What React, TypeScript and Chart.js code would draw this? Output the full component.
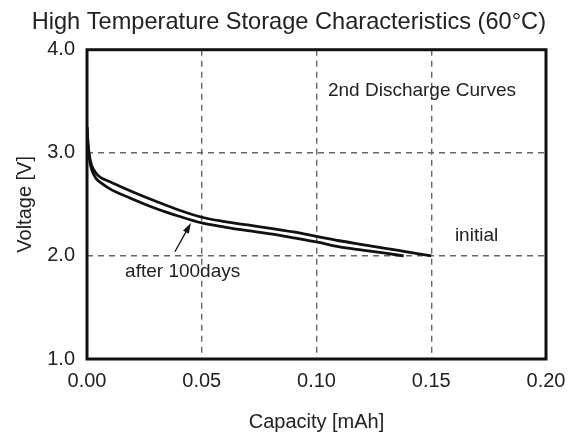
import React, { useEffect, useRef } from "react";
import { Chart, registerables } from "chart.js";

Chart.register(...registerables);

const chartTitle = "High Temperature Storage Characteristics (60°C)";
const xAxisTitle = "Capacity [mAh]";
const yAxisTitle = "Voltage [V]";

const capacityInitial = [0, 0.0005, 0.001, 0.002, 0.004, 0.006, 0.01, 0.02, 0.03, 0.04, 0.05, 0.06, 0.07, 0.08, 0.09, 0.1, 0.11, 0.12, 0.13, 0.14, 0.15];
const voltageInitial = [3.25, 3.08, 2.98, 2.88, 2.8, 2.76, 2.72, 2.62, 2.53, 2.445, 2.375, 2.333, 2.3, 2.268, 2.232, 2.19, 2.147, 2.11, 2.073, 2.037, 2.0];

const capacityAfter = [0, 0.0005, 0.001, 0.002, 0.004, 0.006, 0.01, 0.02, 0.03, 0.04, 0.05, 0.06, 0.07, 0.08, 0.09, 0.1, 0.11, 0.12, 0.13, 0.138];
const voltageAfter = [3.25, 3.05, 2.95, 2.84, 2.75, 2.71, 2.65, 2.55, 2.46, 2.385, 2.32, 2.28, 2.245, 2.213, 2.175, 2.135, 2.088, 2.057, 2.026, 2.0];

const xTickValues = [0, 0.05, 0.1, 0.15, 0.2];
const yTickValues = [1, 2, 3, 4];

// annotation texts with their anchor in data coordinates
const noteTexts = ["2nd Discharge Curves", "initial", "after 100days"];
const noteX = [0.105, 0.1603, 0.0166];
const noteY = [3.6, 2.195, 1.842];

// arrow from tail to tip (data coordinates)
const arrowFrom = [0.0383, 2.04];
const arrowTo = [0.0453, 2.32];

const FONT = "'Liberation Sans', Arial, Helvetica, sans-serif";
const TEXT = "#222";

const framePlugin = {
  id: "frameAndNotes",
  afterDatasetsDraw(chart: any) {
    const { ctx, chartArea, scales } = chart;
    ctx.save();
    ctx.strokeStyle = "#111";
    ctx.lineWidth = 3;
    ctx.strokeRect(chartArea.left, chartArea.top, chartArea.right - chartArea.left, chartArea.bottom - chartArea.top);

    ctx.fillStyle = TEXT;
    ctx.font = `19px ${FONT}`;
    ctx.textAlign = "left";
    ctx.textBaseline = "middle";
    noteTexts.forEach((t, i) => {
      ctx.fillText(t, scales.x.getPixelForValue(noteX[i]), scales.y.getPixelForValue(noteY[i]));
    });

    const x0 = scales.x.getPixelForValue(arrowFrom[0]);
    const y0 = scales.y.getPixelForValue(arrowFrom[1]);
    const x1 = scales.x.getPixelForValue(arrowTo[0]);
    const y1 = scales.y.getPixelForValue(arrowTo[1]);
    const ang = Math.atan2(y1 - y0, x1 - x0);
    const head = 11;
    const spread = 0.3;
    ctx.strokeStyle = "#111";
    ctx.lineWidth = 1.3;
    ctx.beginPath();
    ctx.moveTo(x0, y0);
    ctx.lineTo(x1 - Math.cos(ang) * head * 0.7, y1 - Math.sin(ang) * head * 0.7);
    ctx.stroke();
    ctx.fillStyle = "#111";
    ctx.beginPath();
    ctx.moveTo(x1, y1);
    ctx.lineTo(x1 - head * Math.cos(ang - spread), y1 - head * Math.sin(ang - spread));
    ctx.lineTo(x1 - head * Math.cos(ang + spread), y1 - head * Math.sin(ang + spread));
    ctx.closePath();
    ctx.fill();
    ctx.restore();
  },
};

export default function App() {
  const ref = useRef<HTMLCanvasElement | null>(null);

  useEffect(() => {
    if (!ref.current) return;
    const toPts = (xs: number[], ys: number[]) => xs.map((x, i) => ({ x, y: ys[i] }));
    const chart = new Chart(ref.current, {
      type: "line",
      data: {
        datasets: [
          {
            label: "initial",
            data: toPts(capacityInitial, voltageInitial),
            borderColor: "#111",
            borderWidth: 2.8,
            pointRadius: 0,
            cubicInterpolationMode: "monotone",
            fill: false,
          },
          {
            label: "after 100days",
            data: toPts(capacityAfter, voltageAfter),
            borderColor: "#111",
            borderWidth: 2.8,
            pointRadius: 0,
            cubicInterpolationMode: "monotone",
            fill: false,
          },
        ],
      },
      options: {
        responsive: false,
        animation: false,
        layout: { padding: { left: 0, right: 22, top: 0, bottom: 0 } },
        plugins: {
          legend: { display: false },
          tooltip: { enabled: false },
          title: {
            display: true,
            text: chartTitle,
            color: TEXT,
            align: "end",
            font: { family: FONT, size: 23.6, weight: "normal" },
            padding: { top: 8, bottom: 13.4 },
          },
        },
        scales: {
          x: {
            type: "linear",
            min: 0,
            max: 0.2,
            afterBuildTicks: (s: any) => {
              s.ticks = xTickValues.map((v) => ({ value: v }));
            },
            afterFit: (s: any) => {
              s.height = 79;
              s.paddingLeft = 0;
              s.paddingRight = 0;
            },
            border: { display: false, dash: [6, 5] },
            grid: {
              drawTicks: false,
              color: (c: any) => (c.tick && (c.tick.value === 0 || c.tick.value === 0.2) ? "rgba(0,0,0,0)" : "#666"),
              lineWidth: 1.4,
            },
            ticks: {
              color: TEXT,
              font: { family: FONT, size: 20 },
              padding: 10,
              maxRotation: 0,
              callback: (v: any) => Number(v).toFixed(2),
            },
            title: {
              display: true,
              text: xAxisTitle,
              color: TEXT,
              font: { family: FONT, size: 20 },
              padding: { top: 4, bottom: 4 },
            },
          },
          y: {
            type: "linear",
            min: 1,
            max: 4,
            afterBuildTicks: (s: any) => {
              s.ticks = yTickValues.map((v) => ({ value: v }));
            },
            afterFit: (s: any) => {
              s.width = 87;
              s.paddingTop = 0;
              s.paddingBottom = 0;
            },
            border: { display: false, dash: [6, 5] },
            grid: {
              drawTicks: false,
              color: (c: any) => (c.tick && (c.tick.value === 1 || c.tick.value === 4) ? "rgba(0,0,0,0)" : "#666"),
              lineWidth: 1.4,
            },
            ticks: {
              color: TEXT,
              font: { family: FONT, size: 20 },
              padding: 12,
              callback: (v: any) => Number(v).toFixed(1),
            },
            title: {
              display: true,
              text: yAxisTitle,
              color: TEXT,
              font: { family: FONT, size: 20 },
              padding: { top: 13, bottom: 4 },
            },
          },
        },
      } as any,
      plugins: [framePlugin],
    } as any);
    return () => chart.destroy();
  }, []);

  return (
    <div style={{ position: "fixed", left: 0, top: 0, width: 568, height: 438, background: "#fff" }}>
      <canvas ref={ref} width={568} height={438} />
    </div>
  );
}
